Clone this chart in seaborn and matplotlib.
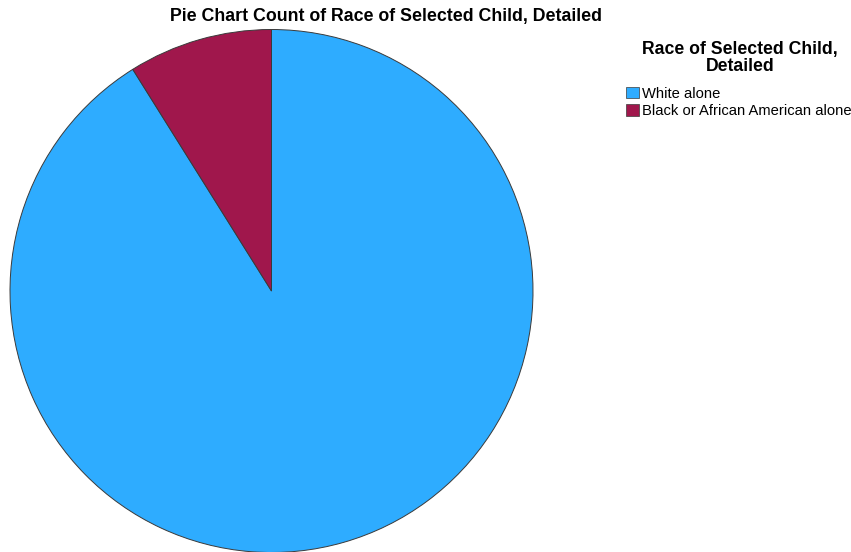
import matplotlib
matplotlib.use("Agg")
import matplotlib.pyplot as plt
import seaborn as sns
from matplotlib.patches import Patch

# Share of children by race (percent)
categories = ["White alone", "Black or African American alone"]
shares = [91.1, 8.9]
colors = ["#2EACFF", "#A0174C"]

title = "Pie Chart Count of Race of Selected Child, Detailed"
legend_title = "Race of Selected Child,\nDetailed"

sns.set_theme(style="white")
plt.rcParams["font.family"] = ["Liberation Sans", "DejaVu Sans"]
plt.rcParams["text.color"] = "black"

W, H = 851, 552
fig = plt.figure(figsize=(W / 100, H / 100), dpi=100)

# pie axes: square area centred on the left part of the canvas
cx, cy, r = 271.5, 291.0, 261.5
ax = fig.add_axes([(cx - r) / W, (H - cy - r) / H, 2 * r / W, 2 * r / H])
wedges, _ = ax.pie(
    shares,
    colors=colors,
    startangle=90,
    counterclock=False,
    radius=1.0,
    wedgeprops=dict(edgecolor="#3a3a3a", linewidth=0.7),
)
ax.set_xlim(-1.0, 1.0)
ax.set_ylim(-1.0, 1.0)
ax.set_aspect("equal")
ax.axis("off")

fig.text(386 / W, 1 - 16 / H, title, ha="center", va="center",
         fontsize=12.8, fontweight="bold", color="black")

# legend heading, centred over the entries
fig.text(740 / W, 1 - 58 / H, legend_title, ha="center", va="center",
         multialignment="center", fontsize=12.7, fontweight="bold",
         color="black", linespacing=0.95)

handles = [Patch(facecolor=c, edgecolor="#3a3a3a", linewidth=0.5) for c in colors]
leg = fig.legend(
    handles, categories,
    loc="upper left",
    bbox_to_anchor=(626 / W, 1 - 86.5 / H),
    frameon=False,
    fontsize=10.6,
    handlelength=0.88,
    handleheight=0.85,
    handletextpad=0.2,
    labelspacing=0.26,
    borderpad=0.0,
    borderaxespad=0.0,
)
for t in leg.get_texts():
    t.set_color("black")

fig.savefig("out.png", dpi=100)
